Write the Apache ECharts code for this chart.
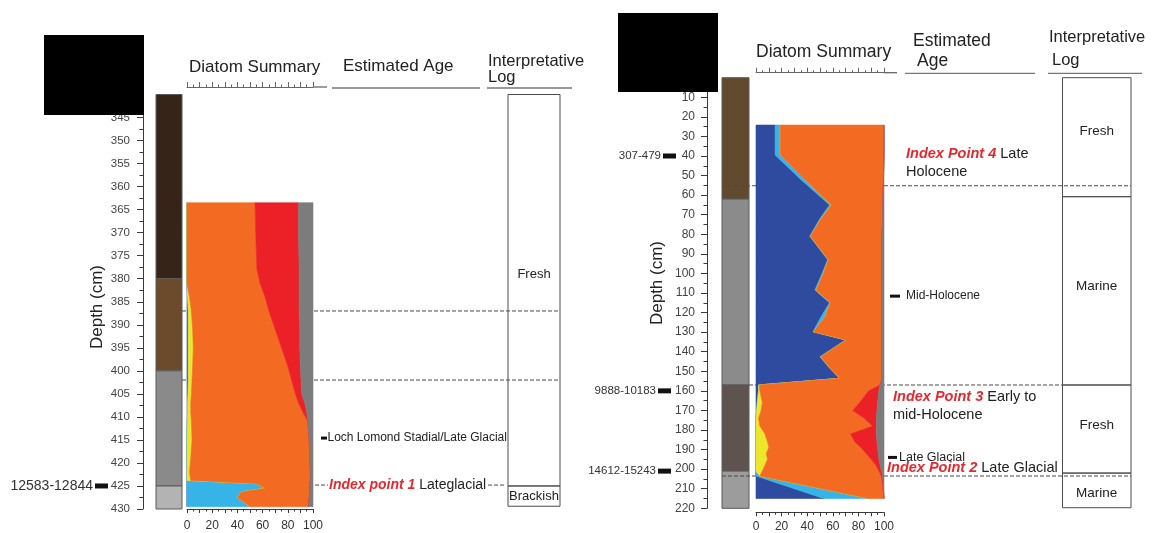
<!DOCTYPE html>
<html>
<head>
<meta charset="utf-8">
<script src="https://cdn.jsdelivr.net/npm/echarts@6/dist/echarts.min.js"></script>
<style>
  html, body { margin: 0; padding: 0; background: #fff; }
  #chart { width: 1160px; height: 533px; }
</style>
</head>
<body>
<div id="chart"></div>
<script>
// ---------------- Core A (left column) ----------------
const coreALithoTop  = [340, 380, 400, 425];
const coreALithoBase = [380, 400, 425, 430];

// diatom salinity groups, % of count at each sample depth (cm)
const coreADepth       = [363.5, 370, 378, 381, 384, 387, 391, 395, 399, 402, 405, 407, 409, 411, 415, 419, 422, 423.8, 424.5, 425.5, 426.3, 427.5, 429.5];
const coreAPolyhalobous = [0, 0, 0, 0, 0.5, 1, 1, 1, 1, 1, 0.8, 0.5, 0.5, 0.3, 0, 0, 0, 0, 0, 0, 0, 0, 0];
const coreAMesohalobous = [0, 0, 0, 0, 0, 0, 0, 0, 0, 0, 0, 0, 0, 0, 0, 0, 0, 0, 55, 62, 43, 40, 50];
const coreAHalophilous  = [0, 0, 0, 0, 1.5, 2.5, 3.5, 4, 3.5, 3, 2.7, 2.5, 2.5, 3.2, 4, 3, 2, 3, 0, 0, 0, 0, 0];
const coreAIndifferent  = [54, 54.5, 55.5, 58, 60, 61.5, 65.5, 70, 75.5, 79, 82.5, 85.5, 89, 92.5, 93, 94.5, 96, 95, 42.5, 35.5, 54.5, 57, 46.5];
const coreAHalophobous  = [34.5, 34, 33.5, 31, 27, 24, 19.5, 14.5, 10, 7.5, 5, 5, 3, 0, 0, 0, 0, 0, 0, 0, 0, 0, 0];
const coreAUnknown      = [11.5, 11.5, 11, 11, 11, 11, 10.5, 10.5, 10, 9.5, 9, 6.5, 5, 4, 3, 2.5, 2, 2, 2.5, 2.5, 2.5, 3, 3.5];

const coreAZoneDepth  = [387, 402];
const coreALogTop     = [340, 425];
const coreALogBase    = [425, 429.4];
const coreALogLabel   = ['Fresh', 'Brackish'];
const coreALogLabelAt = [379, 427.2];
const coreADateDepth  = [425];
const coreADateLabel  = ['12583-12844'];
const coreAEventDepth = [414.6];
const coreAEventLabel = ['Loch Lomond Stadial/Late Glacial'];
const coreAIndexDepth = [424.8];
const coreAIndexName  = ['Index point 1'];
const coreAIndexAge   = ['Lateglacial'];

// ---------------- Core B (right column) ----------------
const coreBLithoTop  = [0, 62, 157, 201];
const coreBLithoBase = [62, 157, 201, 220];

const coreBDepth        = [24.2, 39.5, 52, 65, 72, 81, 93, 101, 108.5, 115, 122, 129.8, 134, 142.6, 148, 153.6, 157, 160, 166, 170, 174, 178, 182, 186, 189, 192, 195, 198, 201, 203.5, 215];
const coreBPolyhalobous = [15, 15, 35, 57.5, 50, 42, 56, 51, 46, 57.5, 51, 44.5, 70, 50, 57, 65, 2, 2, 1, 0.5, 0, 0, 0, 0, 0, 0, 0, 0, 0, 0, 53];
const coreBMesohalobous = [4, 4, 3, 1.5, 1, 0.5, 0.5, 1, 1, 0.5, 3, 0.5, 0.5, 0.5, 0.5, 0.5, 0, 0, 0, 0, 0, 0, 0, 0, 0, 0, 0, 0, 0, 3, 35];
const coreBHalophilous  = [0, 0, 0, 0, 0, 0, 0, 0, 0, 0, 0, 0, 0, 0, 0, 0, 0.5, 1, 4, 3.5, 2, 3, 7, 9, 10, 8, 9, 7, 5, 0, 0];
const coreBIndifferent  = [81, 81, 61.5, 40, 48, 56, 42, 46.5, 51.5, 40.5, 44.5, 53.5, 28, 48, 41, 33, 94.5, 85, 76, 71.6, 82.6, 88, 67, 68, 72, 78, 81, 86.6, 91, 95, 12];
const coreBHalophobous  = [0, 0, 0, 0, 0, 0, 0, 0, 0, 0, 0, 0, 0, 0, 0, 0, 0, 8, 14, 18.9, 9.4, 3, 20, 17.5, 13, 9.5, 6, 3.4, 2, 1, 0];
const coreBUnknown      = [0, 0, 0.5, 1, 1, 1.5, 1.5, 1.5, 1.5, 1.5, 1.5, 1.5, 1.5, 1.5, 1.5, 1.5, 3, 4, 5, 5.5, 6, 6, 6, 5.5, 5, 4.5, 4, 3, 2, 1, 0];

const coreBLogTop     = [0, 60.8, 157, 202];
const coreBLogBase    = [60.8, 157, 202, 219.7];
const coreBLogLabel   = ['Fresh', 'Marine', 'Fresh', 'Marine'];
const coreBLogLabelAt = [27.6, 106.6, 177.5, 212.4];
const coreBDateDepth  = [40, 160, 201];
const coreBDateLabel  = ['307-479', '9888-10183', '14612-15243'];
const coreBEventDepth = [111.6, 194];
const coreBEventLabel = ['Mid-Holocene', 'Late Glacial'];
const coreBIndexDepth = [39, 163, 199.3];
const coreBIndexName  = ['Index Point 4', 'Index Point 3', 'Index Point 2'];
const coreBIndexAge   = [['Late', 'Holocene'], ['Early to', 'mid-Holocene'], ['Late Glacial']];

const depthTicksA = { min: 340, max: 430, interval: 5 };
const depthTicksB = { min: 0, max: 220, interval: 10 };

// ---------------- styles / layout ----------------
const FONT = '"Liberation Sans", Arial, Helvetica, sans-serif';
const INK = '#222';
const AXIS = '#3a3a3a';
const RED_TEXT = '#e42a30';
const GROUP_COLORS = ['#2f4b9f', '#36b4e8', '#ece62c', '#f36b22', '#eb2127', '#7c7c7c'];
const LITHO_A_COLORS = ['#372419', '#6b4b2b', '#8a8a8a', '#b3b3b3'];
const LITHO_B_COLORS = ['#624a2e', '#8b8b8b', '#5f534f', '#9c9c9c'];

const LA = { lithoL: 156, lithoW: 26, plotL: 187, plotW: 126, top: 94.5, h: 414.5,
  guideL: 182, logL: 508, logR: 560 };
const LB = { lithoL: 722, lithoW: 27, plotL: 756, plotW: 128, top: 77.7, h: 430.6,
  logL: 1062.5, logR: 1131 };

function txt(x, y, text, size, extra) {
  return {
    type: 'text', x: x, y: y, z2: 20,
    style: Object.assign({
      text: text, fill: INK, fontSize: size, fontFamily: FONT,
      align: 'left', verticalAlign: 'middle', textAlign: 'left', textVerticalAlign: 'middle'
    }, extra || {})
  };
}
function richIndex(x, y, name, rest, size) {
  return txt(x, y, '{r|' + name + '}' + (rest ? ' ' + rest : ''), size, {
    rich: { r: { fill: RED_TEXT, fontWeight: 'bold', fontStyle: 'italic', fontSize: size, fontFamily: FONT } }
  });
}
function hline(x1, x2, y, dashed, color) {
  return { type: 'line', shape: { x1: x1, y1: y, x2: x2, y2: y },
    style: { stroke: color || '#4a4a4a', lineWidth: 1, lineDash: dashed ? [4, 2] : null } };
}
function box(x, y, w, h, fill, stroke) {
  return { type: 'rect', shape: { x: x, y: y, width: w, height: h },
    style: { fill: fill || 'none', stroke: stroke || null, lineWidth: 1 } };
}

// stacked polygons for the diatom summary
function stackRenderer(depths, groups) {
  const bounds = [];
  let run = depths.map(() => 0);
  groups.forEach(g => {
    const upper = run.map((v, i) => v + g[i]);
    bounds.push([run, upper]);
    run = upper;
  });
  return function (params, api) {
    const k = params.dataIndex;
    const lower = bounds[k][0], upper = bounds[k][1];
    const pts = [];
    for (let i = 0; i < depths.length; i++) pts.push(api.coord([upper[i], depths[i]]));
    for (let i = depths.length - 1; i >= 0; i--) pts.push(api.coord([lower[i], depths[i]]));
    return { type: 'polygon', shape: { points: pts },
      style: { fill: GROUP_COLORS[k], stroke: GROUP_COLORS[k], lineWidth: 0.6 } };
  };
}

function lithoRenderer(tops, bases, colors) {
  return function (params, api) {
    const i = params.dataIndex, cs = params.coordSys;
    const y0 = api.coord([0, tops[i]])[1], y1 = api.coord([0, bases[i]])[1];
    return { type: 'rect', shape: { x: cs.x, y: y0, width: cs.width, height: y1 - y0 },
      style: { fill: colors[i], stroke: '#5a5a5a', lineWidth: 1 } };
  };
}

// dashed zone boundaries (drawn under the diatom polygons)
function guidesA(params, api) {
  const kids = coreAZoneDepth.map(d => hline(LA.guideL, LA.logR, api.coord([0, d])[1], true));
  return { type: 'group', children: kids };
}
function guidesB(params, api) {
  const y = d => api.coord([0, d])[1];
  return { type: 'group', children: [
    hline(LB.lithoL, LB.logR, y(55.2), true),
    hline(LB.lithoL + LB.lithoW, LB.logL, y(157), true),
    hline(LB.lithoL, LB.logR, y(203.5), true)
  ] };
}

function overlayA(params, api) {
  const y = d => api.coord([0, d])[1];
  const kids = [];
  coreALogTop.forEach((t, i) => {
    kids.push(box(LA.logL, y(t), LA.logR - LA.logL, y(coreALogBase[i]) - y(t), null, '#4d4d4d'));
    kids.push(txt((LA.logL + LA.logR) / 2, y(coreALogLabelAt[i]), coreALogLabel[i], 13, { align: 'center', textAlign: 'center' }));
  });
  coreADateDepth.forEach((d, i) => {
    kids.push(box(95, y(d) - 2.5, 13, 5, '#111'));
    kids.push(txt(93, y(d), coreADateLabel[i], 14, { align: 'right', textAlign: 'right', fill: '#333' }));
  });
  coreAEventDepth.forEach((d, i) => {
    kids.push(box(321, y(d) - 1.5, 6, 3, '#111'));
    kids.push(txt(327.5, y(d), coreAEventLabel[i], 12));
  });
  coreAIndexDepth.forEach((d, i) => {
    kids.push(hline(315, 328, y(d), true));
    kids.push(hline(488, 506, y(d), true));
    kids.push(richIndex(329, y(d), coreAIndexName[i], coreAIndexAge[i], 14));
  });
  return { type: 'group', children: kids };
}

function overlayB(params, api) {
  const y = d => api.coord([0, d])[1];
  const kids = [];
  coreBLogTop.forEach((t, i) => {
    kids.push(box(LB.logL, y(t), LB.logR - LB.logL, y(coreBLogBase[i]) - y(t), null, '#4d4d4d'));
    kids.push(txt((LB.logL + LB.logR) / 2, y(coreBLogLabelAt[i]), coreBLogLabel[i], 13.5, { align: 'center', textAlign: 'center' }));
  });
  coreBDateDepth.forEach((d, i) => {
    const x0 = i === 0 ? 663 : 658;
    kids.push(box(x0, y(d) - 2.5, 13, 5, '#111'));
    kids.push(txt(x0 - 2, y(d), coreBDateLabel[i], 11.5, { align: 'right', textAlign: 'right', fill: '#333' }));
  });
  kids.push(box(890, y(coreBEventDepth[0]) - 1.5, 10, 3, '#111'));
  kids.push(txt(906, y(coreBEventDepth[0]), coreBEventLabel[0], 12));
  kids.push(box(888, y(coreBEventDepth[1]) - 1.5, 9, 3, '#111'));
  kids.push(txt(899, y(coreBEventDepth[1]), coreBEventLabel[1], 12.5));
  const indexX = [906, 893, 887];
  coreBIndexDepth.forEach((d, i) => {
    const lines = coreBIndexAge[i];
    kids.push(richIndex(indexX[i], y(d), coreBIndexName[i], lines[0], 14.5));
    if (lines[1]) kids.push(txt(indexX[i], y(d) + 18, lines[1], 14.5));
  });
  return { type: 'group', children: kids };
}

function depthAxis(gridIndex, t, offset, fontSize, margin) {
  return {
    type: 'value', gridIndex: gridIndex, inverse: true, min: t.min, max: t.max, interval: t.interval,
    position: 'left', offset: offset,
    axisLine: { show: true, onZero: false, lineStyle: { color: AXIS, width: 1 } },
    axisTick: { show: true, length: 6, lineStyle: { color: AXIS } },
    minorTick: { show: true, splitNumber: 2, length: 3.5, lineStyle: { color: AXIS } },
    splitLine: { show: false }, minorSplitLine: { show: false },
    axisLabel: { fontSize: fontSize, color: '#444', margin: margin, fontFamily: FONT, showMinLabel: true, showMaxLabel: true }
  };
}
function hiddenDepth(gridIndex, t) {
  return { type: 'value', gridIndex: gridIndex, inverse: true, min: t.min, max: t.max, show: false };
}
function percentAxis(gridIndex, offset, margin) {
  return {
    type: 'value', gridIndex: gridIndex, position: 'bottom', offset: offset, min: 0, max: 100, interval: 10,
    axisLine: { show: true, onZero: false, lineStyle: { color: AXIS } },
    axisTick: { show: true, length: 4, lineStyle: { color: AXIS } },
    minorTick: { show: true, splitNumber: 2, length: 2.5, lineStyle: { color: AXIS } },
    splitLine: { show: false }, minorSplitLine: { show: false },
    axisLabel: { fontSize: 12, color: '#333', margin: margin, fontFamily: FONT, showMinLabel: true, showMaxLabel: true,
      formatter: v => (v % 20 === 0 ? String(v) : '') }
  };
}
function rulerAxis(gridIndex, offset) {
  return {
    type: 'value', gridIndex: gridIndex, position: 'top', offset: offset, min: 0, max: 100, interval: 10,
    axisLine: { show: true, onZero: false, lineStyle: { color: '#666' } },
    axisTick: { show: true, length: 5, lineStyle: { color: '#666' } },
    minorTick: { show: true, splitNumber: 2, length: 2.5, lineStyle: { color: '#666' } },
    splitLine: { show: false }, minorSplitLine: { show: false },
    axisLabel: { show: false }
  };
}

const grid = (l, w, t, h) => ({ left: l, top: t, width: w, height: h, outerBoundsMode: 'none', containLabel: false });

const headFont = s => ({ fill: INK, fontSize: s, fontFamily: FONT, textAlign: 'left', textVerticalAlign: 'middle', align: 'left', verticalAlign: 'middle' });
const heading = (x, y, text, s) => ({ type: 'text', x: x, y: y, z: 5, style: Object.assign({ text: text }, headFont(s)) });
const rule = (x1, x2, y, c) => ({ type: 'line', z: 5, shape: { x1: x1, y1: y, x2: x2, y2: y }, style: { stroke: c || '#777', lineWidth: 1.3 } });

const groupsA = [coreAPolyhalobous, coreAMesohalobous, coreAHalophilous, coreAIndifferent, coreAHalophobous, coreAUnknown];
const groupsB = [coreBPolyhalobous, coreBMesohalobous, coreBHalophilous, coreBIndifferent, coreBHalophobous, coreBUnknown];

const option = {
  animation: false,
  backgroundColor: '#ffffff',
  textStyle: { fontFamily: FONT },
  grid: [
    grid(LA.lithoL, LA.lithoW, LA.top, LA.h),
    grid(LA.plotL, LA.plotW, LA.top, LA.h),
    grid(LB.lithoL, LB.lithoW, LB.top, LB.h),
    grid(LB.plotL, LB.plotW, LB.top, LB.h)
  ],
  xAxis: [
    { type: 'value', gridIndex: 0, min: 0, max: 1, show: false },
    percentAxis(1, 0, 11),
    rulerAxis(1, 7.5),
    { type: 'value', gridIndex: 2, min: 0, max: 1, show: false },
    percentAxis(3, 4, 8),
    rulerAxis(3, 5)
  ],
  yAxis: [
    depthAxis(0, depthTicksA, 13, 11.5, 13),
    hiddenDepth(1, depthTicksA),
    depthAxis(2, depthTicksB, 15, 12, 12),
    hiddenDepth(3, depthTicksB)
  ],
  series: [
    { type: 'custom', name: 'lithology A', xAxisIndex: 0, yAxisIndex: 0, z: 1,
      renderItem: lithoRenderer(coreALithoTop, coreALithoBase, LITHO_A_COLORS),
      data: coreALithoTop.map((t, i) => [0.5, t]) },
    { type: 'custom', name: 'zones A', xAxisIndex: 1, yAxisIndex: 1, z: 2, clip: false,
      renderItem: guidesA, data: [[0, depthTicksA.min]] },
    { type: 'custom', name: 'diatoms A', xAxisIndex: 1, yAxisIndex: 1, z: 3,
      renderItem: stackRenderer(coreADepth, groupsA),
      data: groupsA.map((g, k) => [k, coreADepth[0]]) },
    { type: 'custom', name: 'notes A', xAxisIndex: 1, yAxisIndex: 1, z: 4, clip: false,
      renderItem: overlayA, data: [[0, depthTicksA.min]] },

    { type: 'custom', name: 'lithology B', xAxisIndex: 3, yAxisIndex: 2, z: 1,
      renderItem: lithoRenderer(coreBLithoTop, coreBLithoBase, LITHO_B_COLORS),
      data: coreBLithoTop.map((t, i) => [0.5, t]) },
    { type: 'custom', name: 'zones B', xAxisIndex: 4, yAxisIndex: 3, z: 2, clip: false,
      renderItem: guidesB, data: [[0, depthTicksB.min]] },
    { type: 'custom', name: 'diatoms B', xAxisIndex: 4, yAxisIndex: 3, z: 3,
      renderItem: stackRenderer(coreBDepth, groupsB),
      data: groupsB.map((g, k) => [k, coreBDepth[0]]) },
    { type: 'custom', name: 'notes B', xAxisIndex: 4, yAxisIndex: 3, z: 4, clip: false,
      renderItem: overlayB, data: [[0, depthTicksB.min]] }
  ],
  graphic: [
    // left column headings
    heading(189, 67, 'Diatom Summary', 17),
    heading(343, 66, 'Estimated Age', 17),
    heading(488, 61, 'Interpretative', 16.5),
    heading(488, 77, 'Log', 16.5),
    rule(LA.plotL + LA.plotW, 327, 87, '#666'),
    rule(332, 480, 88),
    rule(487, 572, 88),
    { type: 'text', x: 97, y: 307, rotation: Math.PI / 2, z: 5,
      style: Object.assign({ text: 'Depth (cm)' }, headFont(17), { textAlign: 'center', align: 'center' }) },
    // right column headings
    heading(756, 52, 'Diatom Summary', 17.5),
    heading(913, 41, 'Estimated', 17.5),
    heading(917, 61, 'Age', 17.5),
    heading(1049, 37, 'Interpretative', 16.5),
    heading(1052, 60, 'Log', 16.5),
    rule(LB.plotL + LB.plotW, 897, 72.7, '#666'),
    rule(905, 1035, 73.3),
    rule(1048, 1142, 73.3),
    { type: 'text', x: 657, y: 283, rotation: Math.PI / 2, z: 5,
      style: Object.assign({ text: 'Depth (cm)' }, headFont(17), { textAlign: 'center', align: 'center' }) },
    // panel tag masks
    { type: 'rect', z: 100, shape: { x: 44, y: 35, width: 100, height: 80 }, style: { fill: '#000' } },
    { type: 'rect', z: 100, shape: { x: 618, y: 13, width: 100, height: 79 }, style: { fill: '#000' } }
  ]
};

const chart = echarts.init(document.getElementById('chart'), null, { renderer: 'canvas' });
chart.setOption(option);
</script>
</body>
</html>
